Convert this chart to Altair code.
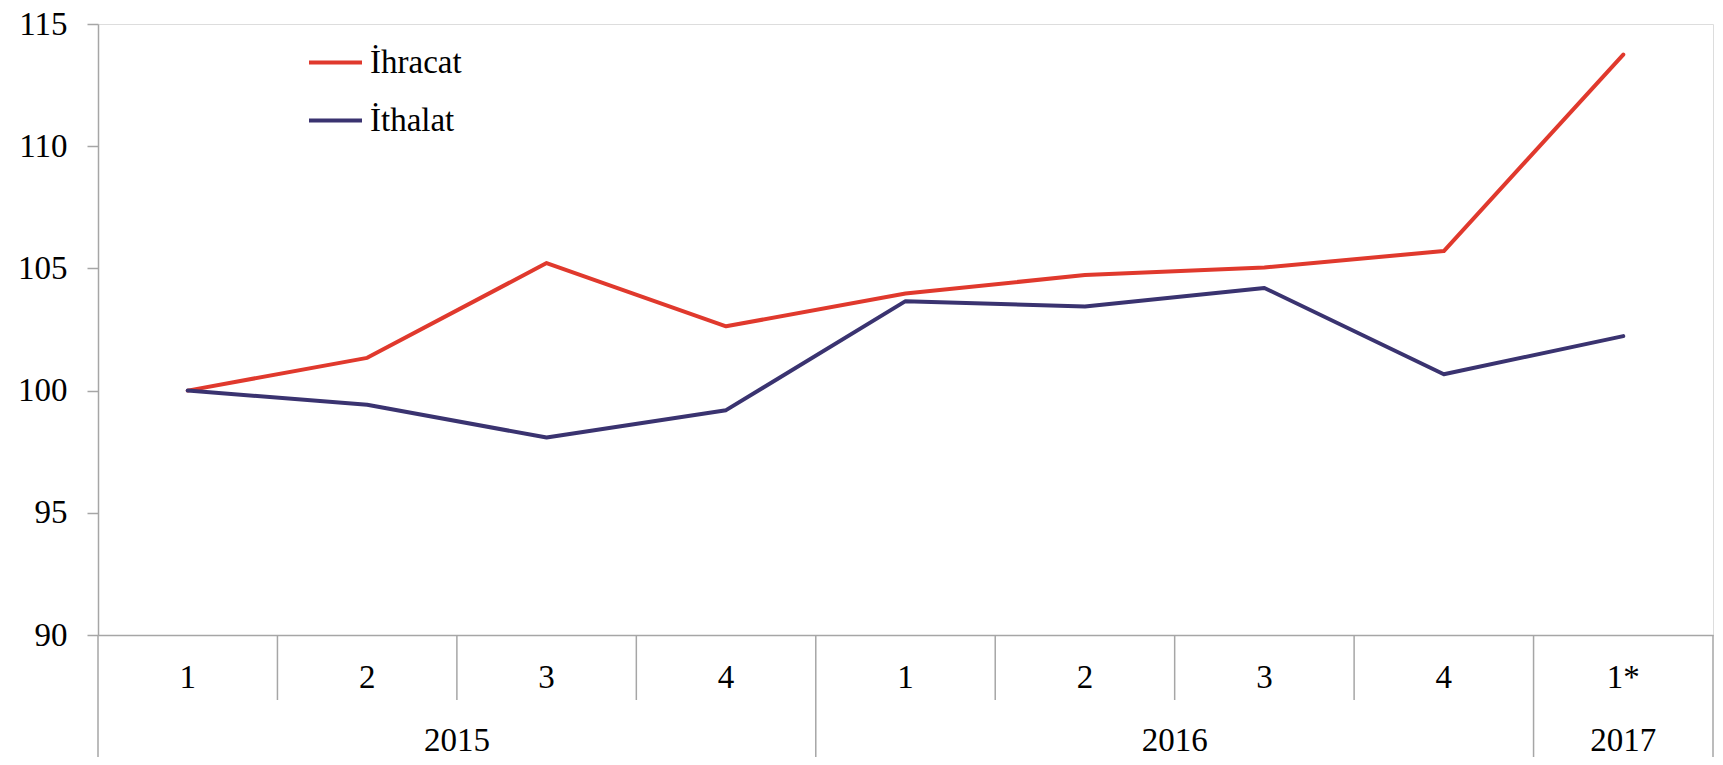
import altair as alt
import pandas as pd

quarters = ["1", "2", "3", "4", "1", "2", "3", "4", "1*"]
years = ["2015", "2016", "2017"]
year_counts = [4, 4, 1]
ihracat = [100.0, 101.34, 105.22, 102.63, 103.97, 104.73, 105.04, 105.71, 113.75]
ithalat = [100.0, 99.42, 98.08, 99.20, 103.66, 103.44, 104.20, 100.67, 102.23]
series_names = ["İhracat", "İthalat"]
colors = ["#E0392D", "#3A3370"]

FONT = "Liberation Serif"
FS = 33
W, H = 1615, 611
GRAY = "#A6A6A6"

rows = []
for i, q in enumerate(quarters):
    rows.append({"pos": i + 0.5, "value": ihracat[i], "series": series_names[0]})
    rows.append({"pos": i + 0.5, "value": ithalat[i], "series": series_names[1]})
lines_df = pd.DataFrame(rows)

q_df = pd.DataFrame({"pos": [i + 0.5 for i in range(len(quarters))], "label": quarters})

year_bounds = [0]
for c in year_counts:
    year_bounds.append(year_bounds[-1] + c)
y_df = pd.DataFrame({
    "center": [(year_bounds[k] + year_bounds[k + 1]) / 2 for k in range(len(years))],
    "label": years,
})
year_sep = pd.DataFrame({"pos": year_bounds})
quarter_sep = pd.DataFrame({"pos": [i for i in range(1, len(quarters)) if i not in year_bounds]})

xscale = alt.Scale(domain=[0, len(quarters)], nice=False, zero=False)
yscale = alt.Scale(domain=[90, 115], nice=False, zero=False)

lines = alt.Chart(lines_df).mark_line(strokeWidth=4, strokeJoin="round", strokeCap="round").encode(
    x=alt.X("pos:Q", scale=xscale,
            axis=alt.Axis(labels=False, ticks=False, grid=False, title=None,
                          domainColor=GRAY, domainWidth=1.5)),
    y=alt.Y("value:Q", scale=yscale,
            axis=alt.Axis(values=[90, 95, 100, 105, 110, 115], grid=False, title=None,
                          domainColor=GRAY, domainWidth=1.5, tickColor=GRAY, tickSize=11,
                          tickWidth=1.5, labelPadding=20, labelFont=FONT, labelFontSize=FS,
                          labelColor="#000")),
    color=alt.Color("series:N", scale=alt.Scale(domain=series_names, range=colors),
                    sort=series_names,
                    legend=alt.Legend(title=None, orient="none", legendX=209, legendY=10,
                                      symbolType="stroke", symbolSize=2809,
                                      symbolStrokeWidth=4, labelFont=FONT,
                                      labelFontSize=FS, labelColor="#000",
                                      labelOffset=6, rowPadding=12, padding=0)),
    order="pos:Q",
)

qsep = alt.Chart(quarter_sep).mark_rule(color=GRAY, strokeWidth=1.5).encode(
    x=alt.X("pos:Q", scale=xscale), y=alt.value(H), y2=alt.value(H + 65)
)
ysep = alt.Chart(year_sep).mark_rule(color=GRAY, strokeWidth=1.5).encode(
    x=alt.X("pos:Q", scale=xscale), y=alt.value(H), y2=alt.value(H + 122)
)
qtext = alt.Chart(q_df).mark_text(font=FONT, fontSize=FS, color="#000", baseline="middle").encode(
    x=alt.X("pos:Q", scale=xscale), y=alt.value(H + 43), text="label:N"
)
ytext = alt.Chart(y_df).mark_text(font=FONT, fontSize=FS, color="#000", baseline="middle").encode(
    x=alt.X("center:Q", scale=xscale), y=alt.value(H + 106), text="label:N"
)

chart = alt.layer(qsep, ysep, qtext, ytext, lines).properties(
    width=W, height=H,
    autosize=alt.AutoSizeParams(type="none"),
    padding={"left": 90, "top": 16, "right": 2, "bottom": 122},
).configure_view(stroke=None).configure(background="white")

chart.save("out.html", embed_options={"renderer": "svg", "actions": False})
